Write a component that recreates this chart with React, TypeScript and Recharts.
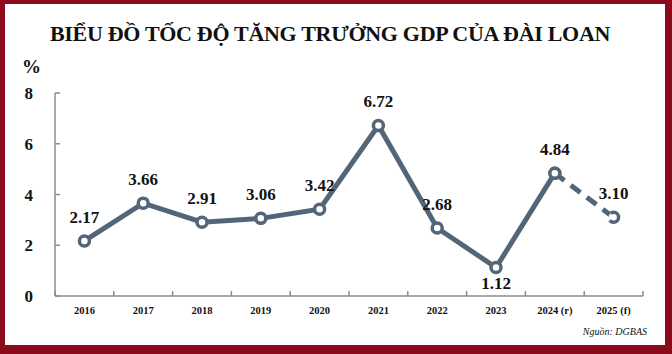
import React from "react";
import { LineChart, Line, XAxis, YAxis } from "recharts";

const YEARS = ["2016", "2017", "2018", "2019", "2020", "2021", "2022", "2023", "2024 (r)", "2025 (f)"];
const GROWTH = [2.17, 3.66, 2.91, 3.06, 3.42, 6.72, 2.68, 1.12, 4.84, 3.1];
const LAST_ACTUAL = 8; // 2024 (r), the forecast segment starts here
const Y_TICKS = [0, 2, 4, 6, 8];
const BELOW_LABEL = [7]; // 2023 label sits under its point

const LINE = "#536679";
const AXIS = "#8c8c8c";
const FRAME = "#8b0a1c";
const SERIF = "'Liberation Serif', 'Times New Roman', serif";

const data = YEARS.map((year, i) => ({
  x: i,
  year,
  actual: i <= LAST_ACTUAL ? GROWTH[i] : null,
  forecast: i >= LAST_ACTUAL ? GROWTH[i] : null,
}));

// tick marks between categories, labels at the centres
const xTicks = YEARS.flatMap((_, i) => [i - 0.5, i]).concat(YEARS.length - 0.5);

const XTick = (props: any) => {
  const { x, y, payload } = props;
  const v = payload.value;
  if (Number.isInteger(v)) {
    return (
      <text x={x} y={y + 18} textAnchor="middle" fontFamily={SERIF} fontWeight="bold" fontSize={10.5} fill="#111">
        {YEARS[v]}
      </text>
    );
  }
  return <line x1={x} y1={y} x2={x} y2={y - 5} stroke={AXIS} strokeWidth={1.5} />;
};

const YTick = (props: any) => {
  const { x, y, payload } = props;
  return (
    <g>
      <line x1={x} y1={y} x2={x + 5} y2={y} stroke={AXIS} strokeWidth={1.5} />
      <text x={x - 22} y={y + 6} textAnchor="end" fontFamily={SERIF} fontWeight="bold" fontSize={17} fill="#111">
        {payload.value}
      </text>
    </g>
  );
};

const makeLabel = (skip: number[]) => (props: any) => {
  const { x, y, value, index } = props;
  if (value == null || skip.includes(index)) return null;
  const below = BELOW_LABEL.includes(index);
  return (
    <text
      key={`lbl-${index}`}
      x={x}
      y={below ? y + 21 : y - 18}
      textAnchor="middle"
      fontFamily={SERIF}
      fontWeight="bold"
      fontSize={17}
      fill="#111"
    >
      {Number(value).toFixed(2)}
    </text>
  );
};

const dotStyle = { r: 5, fill: "#fff", stroke: LINE, strokeWidth: 3.5 };

export default function App() {
  return (
    <div style={{ position: "relative", width: 672, height: 354, background: "#fff", fontFamily: SERIF }}>
      <style>{`body{margin:0}`}</style>
      <div
        style={{
          position: "absolute",
          left: 0,
          top: 21,
          width: 660,
          textAlign: "center",
          fontWeight: "bold",
          fontSize: 22,
          letterSpacing: -0.3,
          color: "#111",
        }}
      >
        BIỂU ĐỒ TỐC ĐỘ TĂNG TRƯỞNG GDP CỦA ĐÀI LOAN
      </div>
      <div style={{ position: "absolute", left: 22, top: 56, fontWeight: "bold", fontSize: 19, color: "#111" }}>%</div>
      <LineChart
        width={672}
        height={354}
        data={data}
        margin={{ top: 93, right: 29, bottom: 28, left: 0 }}
        style={{ position: "absolute", left: 0, top: 0 }}
      >
        <XAxis
          dataKey="x"
          type="number"
          domain={[-0.5, YEARS.length - 0.5]}
          ticks={xTicks}
          interval={0}
          tick={<XTick />}
          tickLine={false}
          tickSize={0}
          tickMargin={0}
          height={30}
          axisLine={{ stroke: AXIS, strokeWidth: 1.5 }}
        />
        <YAxis
          type="number"
          domain={[0, 8]}
          ticks={Y_TICKS}
          tick={<YTick />}
          tickLine={false}
          tickSize={0}
          tickMargin={0}
          width={55}
          axisLine={{ stroke: AXIS, strokeWidth: 1.5 }}
        />
        <Line
          dataKey="forecast"
          stroke={LINE}
          strokeWidth={5}
          strokeDasharray="12 8"
          dot={dotStyle}
          label={makeLabel([LAST_ACTUAL])}
          isAnimationActive={false}
        />
        <Line
          dataKey="actual"
          stroke={LINE}
          strokeWidth={5}
          dot={dotStyle}
          label={makeLabel([])}
          isAnimationActive={false}
        />
      </LineChart>
      <div
        style={{
          position: "absolute",
          right: 25,
          top: 326,
          fontStyle: "italic",
          fontSize: 10,
          color: "#111",
        }}
      >
        Nguồn: DGBAS
      </div>
      <div
        style={{
          position: "absolute",
          inset: 0,
          borderStyle: "solid",
          borderColor: FRAME,
          borderWidth: "4px 7px 9px 5px",
          boxSizing: "border-box",
          pointerEvents: "none",
        }}
      />
    </div>
  );
}
